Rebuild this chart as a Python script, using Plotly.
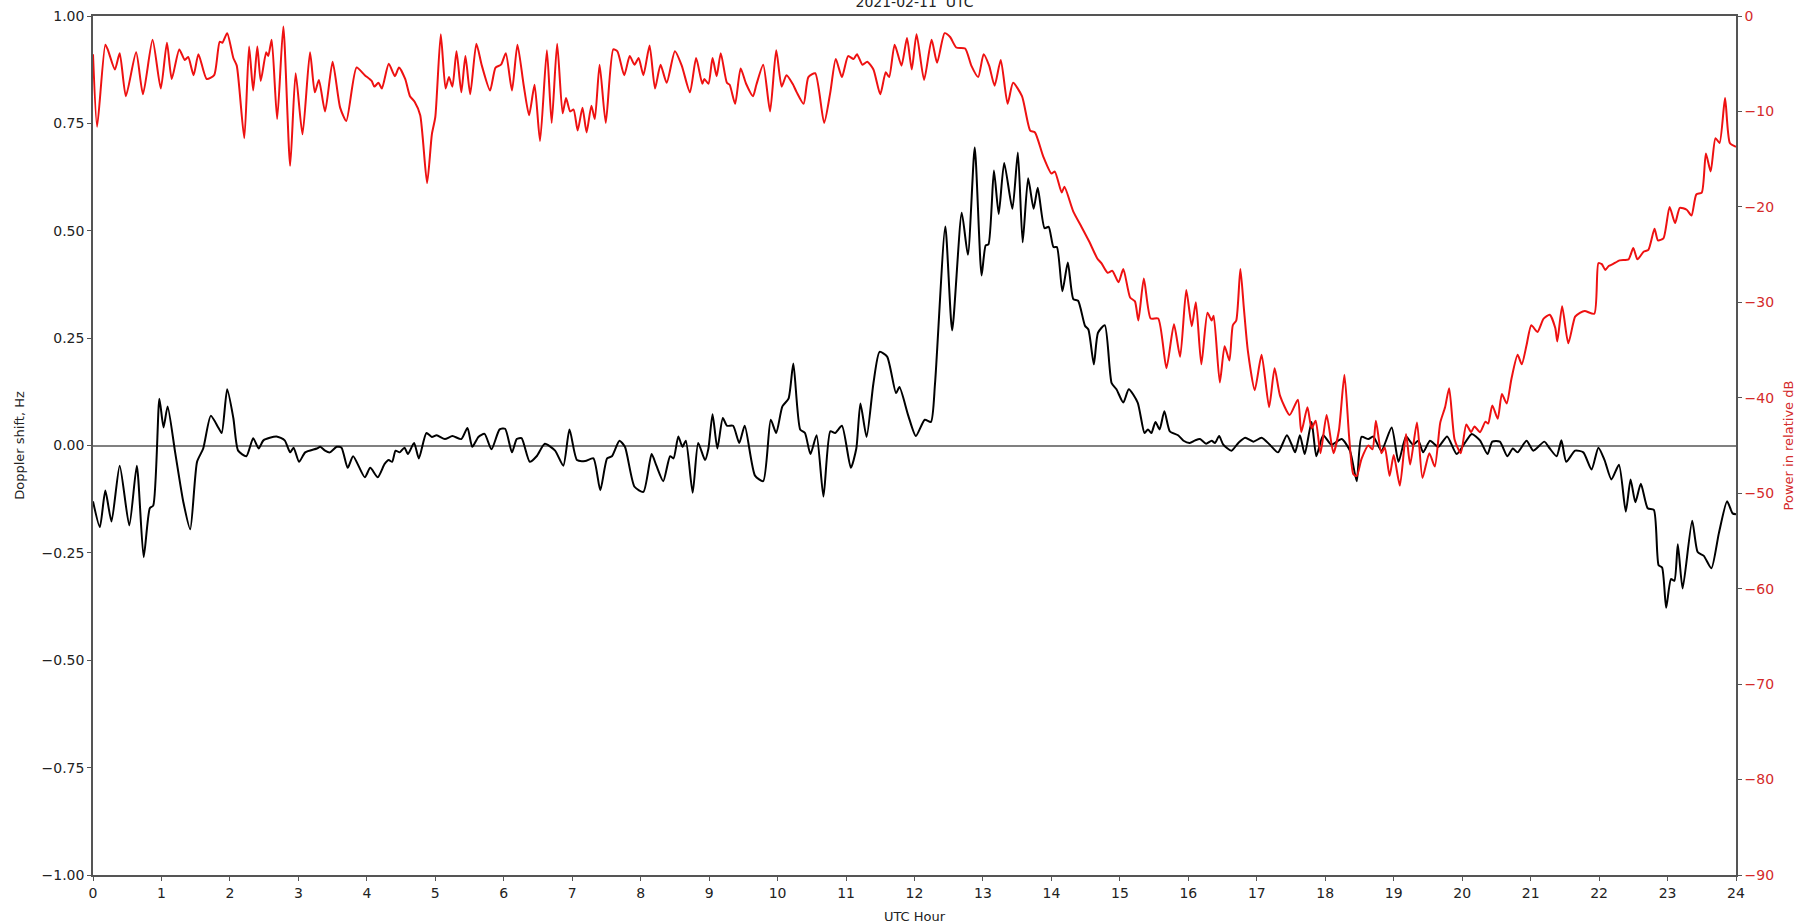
import plotly.graph_objects as go

# ---- Doppler shift (Hz), black trace ----
doppler_hours = (
    [0.00,0.10,0.18,0.27,0.39,0.53,0.64,0.74,0.83,0.88,0.97,1.03,1.09,1.20,1.32,1.42,1.52,1.61,1.72,1.83,1.88,1.96,2.05,2.12,2.24,2.34,2.42,2.49,2.68,2.80,2.88,2.93,3.01,3.10,3.27,3.32,3.39,3.46,3.56,3.63,3.72,3.80,3.97]
    + [4.05,4.16,4.26,4.32,4.37,4.42,4.48,4.55,4.60,4.69,4.76,4.87,4.95,5.02,5.14,5.25,5.38,5.47,5.54,5.63,5.72,5.82,5.94,6.02,6.12,6.19,6.26,6.38,6.48,6.60,6.75,6.87,6.96,7.07,7.19,7.31,7.41,7.51,7.58,7.69,7.77,7.91,8.04]
    + [8.16,8.23,8.33,8.43,8.48,8.55,8.61,8.66,8.76,8.84,8.94,8.99,9.05,9.12,9.20,9.26,9.35,9.44,9.52,9.67,9.79,9.90,9.98,10.07,10.16,10.23,10.33,10.40,10.48,10.57,10.67,10.77,10.84,10.94,11.07,11.15,11.21,11.30,11.40,11.49,11.60,11.73,11.78,11.91,12.02]
    + [12.15,12.24,12.30,12.45,12.55,12.69,12.78,12.88,12.98,13.04,13.08,13.16,13.23,13.31,13.43,13.51,13.58,13.66,13.74,13.80,13.90,13.96,14.03,14.08,14.16,14.24,14.32,14.39,14.49,14.54,14.62,14.68,14.78,14.88,14.95,15.05,15.13,15.26,15.36,15.41,15.46,15.52,15.58,15.65,15.73,15.85,15.93,16.02]
    + [16.10,16.17,16.26,16.34,16.39,16.45,16.51,16.63,16.73,16.83,16.95,17.07,17.19,17.31,17.44,17.51,17.56,17.63,17.70,17.80,17.87,17.97,18.09,18.24,18.36,18.46,18.53,18.63,18.70,18.82,18.97,19.07,19.18,19.28,19.36,19.43,19.53,19.65,19.78,19.92,20.04]
    + [20.14,20.26,20.37,20.44,20.55,20.66,20.74,20.81,20.94,21.04,21.20,21.28,21.38,21.45,21.52,21.65,21.77,21.89,21.99,22.08,22.18,22.29,22.39,22.46,22.53,22.61,22.71,22.80,22.87,22.92,22.98,23.05,23.10,23.15,23.22,23.36,23.44,23.53,23.64,23.75,23.87,23.95,24.0]
)
doppler_hz = (
    [-0.13,-0.19,-0.105,-0.177,-0.047,-0.186,-0.047,-0.26,-0.146,-0.14,0.109,0.042,0.091,-0.016,-0.132,-0.195,-0.038,-0.007,0.069,0.042,0.029,0.131,0.064,-0.012,-0.025,0.017,-0.007,0.012,0.021,0.012,-0.016,-0.005,-0.038,-0.016,-0.007,-0.003,-0.012,-0.016,-0.003,-0.005,-0.052,-0.025,-0.074]
    + [-0.052,-0.074,-0.043,-0.034,-0.038,-0.012,-0.016,-0.005,-0.02,0.006,-0.03,0.029,0.02,0.024,0.015,0.022,0.015,0.041,-0.003,0.02,0.027,-0.009,0.0375,0.039,-0.016,0.015,0.017,-0.038,-0.025,0.004,-0.012,-0.047,0.0375,-0.034,-0.036,-0.03,-0.104,-0.03,-0.025,0.011,-0.003,-0.096,-0.108]
    + [-0.02,-0.047,-0.083,-0.025,-0.03,0.021,-0.003,0.011,-0.11,0.006,-0.034,-0.007,0.073,-0.007,0.064,0.046,0.046,0.006,0.046,-0.07,-0.083,0.06,0.029,0.091,0.109,0.191,0.0375,0.029,-0.02,0.024,-0.119,0.033,0.029,0.046,-0.052,-0.007,0.098,0.02,0.145,0.218,0.207,0.122,0.136,0.069,0.022]
    + [0.06,0.055,0.145,0.51,0.268,0.542,0.444,0.694,0.396,0.466,0.468,0.64,0.539,0.658,0.551,0.682,0.473,0.622,0.551,0.6,0.506,0.509,0.462,0.462,0.359,0.426,0.341,0.337,0.279,0.27,0.189,0.2625,0.28,0.145,0.131,0.1,0.131,0.1,0.029,0.0375,0.029,0.055,0.0375,0.08,0.033,0.024,0.011,0.006]
    + [0.012,0.015,0.004,0.011,0.006,0.022,0.002,-0.012,0.006,0.018,0.009,0.018,0.002,-0.016,0.024,0.002,-0.016,0.024,-0.02,0.055,-0.025,0.024,0.002,0.015,-0.012,-0.083,0.02,0.015,0.021,-0.012,0.042,-0.038,0.021,0.002,0.011,-0.016,0.011,-0.003,0.021,-0.02,0.006]
    + [0.027,0.012,-0.02,0.009,0.009,-0.025,-0.007,-0.016,0.011,-0.012,0.009,-0.007,-0.025,0.012,-0.038,-0.012,-0.016,-0.056,-0.005,-0.034,-0.079,-0.045,-0.154,-0.079,-0.132,-0.089,-0.146,-0.15,-0.279,-0.284,-0.378,-0.311,-0.315,-0.23,-0.333,-0.175,-0.248,-0.257,-0.286,-0.204,-0.13,-0.158,-0.16]
)

# ---- Received power (relative dB), red trace ----
power_hours = (
    [0.00,0.06,0.18,0.22,0.32,0.39,0.48,0.63,0.73,0.87,0.99,1.08,1.15,1.26,1.34,1.39,1.47,1.54,1.66,1.77,1.85,1.89,1.96,2.05,2.10,2.21,2.28,2.34,2.40,2.45,2.53,2.56,2.61,2.69,2.78,2.88,2.96,3.06,3.17,3.24,3.30,3.39,3.50,3.61,3.70,3.85,3.97]
    + [4.07,4.11,4.17,4.22,4.32,4.41,4.47,4.56,4.63,4.70,4.78,4.88,4.95,5.00,5.08,5.15,5.20,5.25,5.31,5.38,5.44,5.51,5.60,5.68,5.80,5.88,5.96,6.03,6.12,6.20,6.29,6.37,6.45,6.53,6.63,6.70,6.78,6.86,6.91,6.97,7.02,7.08,7.15,7.21,7.28,7.33,7.40,7.49,7.60,7.66,7.76,7.84,7.91,7.97,8.04]
    + [8.13,8.21,8.29,8.38,8.50,8.60,8.72,8.81,8.90,8.93,8.99,9.05,9.11,9.17,9.26,9.30,9.38,9.46,9.54,9.64,9.69,9.79,9.89,9.98,10.06,10.13,10.22,10.28,10.38,10.45,10.55,10.68,10.77,10.85,10.94,11.03,11.11,11.16,11.24,11.31,11.40,11.50,11.58,11.63,11.71,11.81,11.89,11.96,12.03]
    + [12.14,12.25,12.33,12.44,12.52,12.61,12.74,12.83,12.93,13.01,13.09,13.17,13.26,13.36,13.44,13.57,13.69,13.76,13.88,14.00,14.05,14.15,14.19,14.32,14.44,14.55,14.67,14.73,14.82,14.89,14.98,15.05,15.15,15.22,15.27,15.35,15.45,15.56,15.68,15.79,15.88,15.97,16.05]
    + [16.11,16.19,16.28,16.34,16.37,16.46,16.53,16.60,16.65,16.70,16.76,16.81,16.87,16.97,17.07,17.18,17.26,17.34,17.48,17.60,17.65,17.74,17.80,17.86,17.93,18.02,18.12,18.20,18.28,18.35,18.41,18.46,18.53,18.63,18.69,18.74,18.82,18.87,18.94,19.00,19.09,19.18,19.24,19.34,19.42,19.52,19.60,19.68,19.75,19.81,19.89,19.98,20.06]
    + [20.13,20.18,20.26,20.34,20.38,20.44,20.52,20.58,20.65,20.72,20.81,20.87,20.94,21.01,21.10,21.19,21.28,21.36,21.39,21.46,21.55,21.65,21.72,21.79,21.93,21.99,22.04,22.09,22.14,22.20,22.30,22.43,22.50,22.56,22.65,22.72,22.81,22.86,22.94,23.03,23.11,23.18,23.28,23.35,23.42,23.50,23.56,23.63,23.70,23.76,23.84,23.91,24.0]
)
power_db = (
    [-4.0,-11.6,-3.0,-3.6,-5.6,-3.9,-8.4,-3.8,-8.2,-2.5,-7.6,-2.8,-6.6,-3.5,-4.6,-4.3,-6.2,-4.0,-6.6,-6.2,-2.7,-2.8,-1.8,-4.4,-5.2,-12.8,-3.2,-7.8,-3.2,-6.8,-3.8,-4.2,-2.5,-10.8,-1.1,-15.7,-6.0,-12.4,-3.8,-8.0,-6.7,-10.0,-4.8,-9.6,-11.0,-5.4,-6.2]
    + [-6.8,-7.4,-7.0,-7.6,-5.0,-6.3,-5.4,-6.6,-8.4,-9.0,-10.4,-17.5,-12.4,-10.6,-1.9,-7.6,-6.4,-7.4,-3.7,-8.0,-4.2,-8.2,-2.9,-5.2,-7.8,-5.4,-5.1,-3.9,-7.8,-3.0,-7.2,-10.4,-7.2,-13.1,-3.6,-11.2,-2.9,-10.2,-8.6,-10.0,-9.8,-12.0,-9.6,-12.2,-9.4,-10.8,-5.1,-11.2,-3.5,-3.7,-6.2,-4.2,-5.1,-4.4,-6.2]
    + [-3.1,-7.6,-5.1,-7.0,-3.7,-5.2,-8.0,-4.4,-7.1,-6.6,-7.1,-4.4,-6.3,-3.9,-7.0,-7.2,-9.2,-5.5,-7.1,-8.4,-7.2,-5.1,-10.0,-3.6,-7.4,-6.2,-7.1,-8.0,-9.2,-6.4,-6.0,-11.2,-8.0,-4.5,-6.4,-4.2,-4.5,-4.0,-5.1,-4.8,-5.6,-8.2,-5.9,-6.4,-3.0,-5.2,-2.3,-5.6,-1.9]
    + [-6.7,-2.5,-4.9,-1.8,-2.2,-3.3,-3.4,-5.2,-6.4,-4.0,-5.2,-7.3,-4.6,-9.2,-7.0,-8.4,-12.0,-12.2,-14.7,-16.5,-16.3,-18.5,-17.9,-20.5,-22.1,-23.6,-25.4,-25.9,-26.9,-26.7,-27.9,-26.5,-29.5,-29.9,-31.9,-27.5,-31.7,-31.7,-36.9,-32.3,-35.7,-28.7,-32.5]
    + [-30.0,-36.5,-31.1,-31.9,-31.4,-38.4,-34.6,-36.1,-32.4,-31.9,-26.5,-30.5,-35.1,-39.2,-35.5,-41.0,-36.9,-39.8,-41.8,-40.2,-43.6,-41.0,-43.2,-42.4,-45.8,-41.8,-45.8,-43.4,-37.6,-44.2,-48.0,-48.2,-46.4,-45.0,-45.4,-42.4,-45.8,-45.2,-48.2,-46.0,-49.2,-43.8,-47.0,-42.6,-48.4,-45.8,-47.2,-42.6,-41.0,-39.0,-44.4,-45.8,-42.8]
    + [-43.6,-43.0,-43.6,-42.5,-42.7,-40.8,-42.2,-39.6,-40.6,-38.0,-35.5,-36.5,-34.5,-32.4,-33.1,-31.7,-31.3,-32.7,-34.1,-30.4,-34.3,-31.5,-31.1,-30.9,-31.2,-25.9,-26.0,-26.6,-26.2,-26.0,-25.6,-25.5,-24.3,-25.5,-24.7,-24.5,-22.3,-23.5,-23.3,-20.0,-21.7,-20.1,-20.3,-20.9,-18.7,-18.5,-14.4,-16.3,-12.8,-13.3,-8.6,-13.3,-13.7]
)

assert len(doppler_hours) == len(doppler_hz), (len(doppler_hours), len(doppler_hz))
assert len(power_hours) == len(power_db), (len(power_hours), len(power_db))

title_text = "2021-02-11  UTC"
x_title = "UTC Hour"
y_title = "Doppler shift, Hz"
y2_title = "Power in relative dB"

FONT = "DejaVu Sans"
AXIS_COLOR = "#555555"
RED_TEXT = "#d42a2a"

fig = go.Figure()
fig.add_trace(go.Scatter(
    x=doppler_hours, y=doppler_hz, mode="lines", yaxis="y",
    line=dict(color="black", width=2, shape="spline", smoothing=0.6),
    showlegend=False, hoverinfo="x+y",
))
fig.add_trace(go.Scatter(
    x=power_hours, y=power_db, mode="lines", yaxis="y2",
    line=dict(color="#ee1111", width=2, shape="spline", smoothing=0.6),
    showlegend=False, hoverinfo="x+y",
))

fig.update_layout(
    width=1801, height=924,
    margin=dict(l=93, r=65, t=16, b=49, pad=0, autoexpand=False),
    paper_bgcolor="white", plot_bgcolor="white",
    font=dict(family=FONT, size=14, color="#222222"),
    title=dict(text=title_text, x=0.5, xref="paper", xanchor="center",
               y=1 - 7 / 924, yref="container", yanchor="bottom",
               font=dict(size=14, color="#222222")),
    xaxis=dict(
        range=[0, 24], tick0=0, dtick=1, ticks="outside", ticklen=4,
        tickcolor=AXIS_COLOR, tickwidth=1, showline=True, linecolor=AXIS_COLOR,
        linewidth=1.5, mirror=True, showgrid=False, zeroline=False,
        automargin=False,
        title=dict(text=x_title, standoff=12, font=dict(size=13)),
        tickfont=dict(size=14, color="#222222"),
    ),
    yaxis=dict(
        range=[-1, 1], tick0=-1, dtick=0.25, tickformat=".2f", ticks="outside",
        ticklen=4, tickcolor=AXIS_COLOR, showline=True, linecolor=AXIS_COLOR,
        linewidth=1.5, showgrid=False, zeroline=True, zerolinecolor="#808080",
        zerolinewidth=1.5, automargin=False,
        title=dict(text=y_title, standoff=14, font=dict(size=13)),
        tickfont=dict(size=14, color="#222222"),
    ),
    yaxis2=dict(
        range=[-90, 0], tick0=-90, dtick=10, overlaying="y", side="right",
        ticks="outside", ticklen=4, tickcolor=AXIS_COLOR, showline=True,
        linecolor=AXIS_COLOR, linewidth=1.5, showgrid=False, zeroline=False,
        automargin=False,
        title=dict(text=y2_title, standoff=11, font=dict(size=13, color=RED_TEXT)),
        tickfont=dict(size=14, color=RED_TEXT),
    ),
)

fig.write_html(
    "out.html",
    config={"displayModeBar": False},
    post_script="document.body.style.margin='0';document.body.style.overflow='hidden';",
)
